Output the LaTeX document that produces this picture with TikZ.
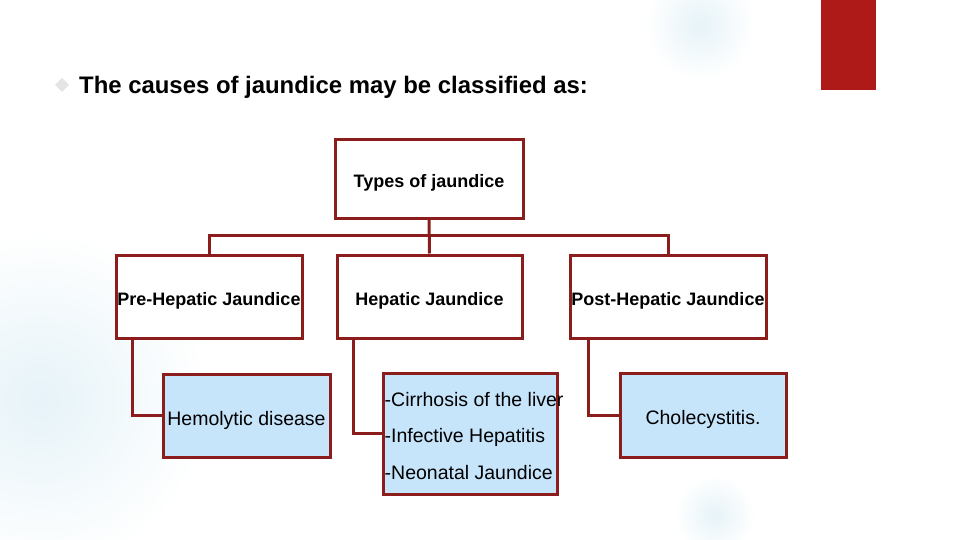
\documentclass[tikz,border=0pt]{standalone}
\usepackage{fontspec}
\setmainfont{Liberation Sans}
\usepackage{xcolor}
\usepackage{tikz}
\definecolor{JDRed}{HTML}{AE1A17}
\definecolor{JDLine}{HTML}{8C1D1D}
\definecolor{JDBlue}{HTML}{C6E4FA}
\definecolor{JDMist}{HTML}{E6F3F8}
\definecolor{JDBullet}{HTML}{E4E4E4}
\tikzset{
  typebox/.style={draw=JDLine,line width=3pt,fill=white,inner sep=1pt,
    text height=17pt,text depth=0pt,
    font=\fontsize{18}{21}\selectfont\bfseries},
  causebox/.style={draw=JDLine,line width=3pt,fill=JDBlue,inner sep=1pt,
    text height=19pt,text depth=0pt,
    font=\fontsize{19.5}{23}\selectfont},
  link/.style={draw=JDLine,line width=3pt}
}
\begin{document}
\begin{tikzpicture}[x=1pt,y=-1pt]
\path[use as bounding box] (0,0) rectangle (960,540);
% soft background
\shade[inner color=JDMist,outer color=white] (40,400) circle (170);
\shade[inner color=JDMist,outer color=white] (700,25) circle (55);
\shade[inner color=JDMist,outer color=white] (715,515) circle (40);
% red tab and heading
\fill[JDRed] (821,0) rectangle (876,90);
\fill[JDBullet] (62,78) -- (69,85) -- (62,92) -- (55,85) -- cycle;
\node[anchor=west,inner sep=0pt,font=\fontsize{23.9}{27}\selectfont\bfseries] (title) at (79,87) {The causes of jaundice may be classified as:};
% boxes
\node[typebox,minimum width=188pt,minimum height=78pt] (types) at (429,179) {Types of jaundice};
\node[typebox,minimum width=186pt,minimum height=83pt] (pre) at (209,296.5) {Pre-Hepatic Jaundice};
\node[typebox,minimum width=185pt,minimum height=83pt] (hep) at (429.5,296.5) {Hepatic Jaundice};
\node[typebox,minimum width=196pt,minimum height=83pt] (post) at (668,296.5) {Post-Hepatic Jaundice};
\node[causebox,minimum width=167pt,minimum height=83pt] (hemo) at (246.5,415.5) {Hemolytic disease};
\node[causebox,minimum width=174pt,minimum height=121pt] (heplist) at (470,433.5) {};
\node[anchor=west,inner sep=0pt,align=left,font=\fontsize{19.5}{36.5}\selectfont] (heptext) at ([xshift=3pt,yshift=-2.5pt]heplist.west) {-Cirrhosis of the liver\\-Infective Hepatitis\\-Neonatal Jaundice};
\node[causebox,minimum width=166pt,minimum height=84pt] (chole) at (703,415) {Cholecystitis.};
% connectors
\draw[link] (types.south) -- (hep.north);
\draw[link] (pre.north) -- ++(0,-18) -| (post.north);
\draw[link] ([xshift=18pt]pre.south west) |- (hemo.west);
\draw[link] ([xshift=18pt]hep.south west) |- (heplist.west);
\draw[link] ([xshift=20pt]post.south west) |- (chole.west);
\end{tikzpicture}
\end{document}
